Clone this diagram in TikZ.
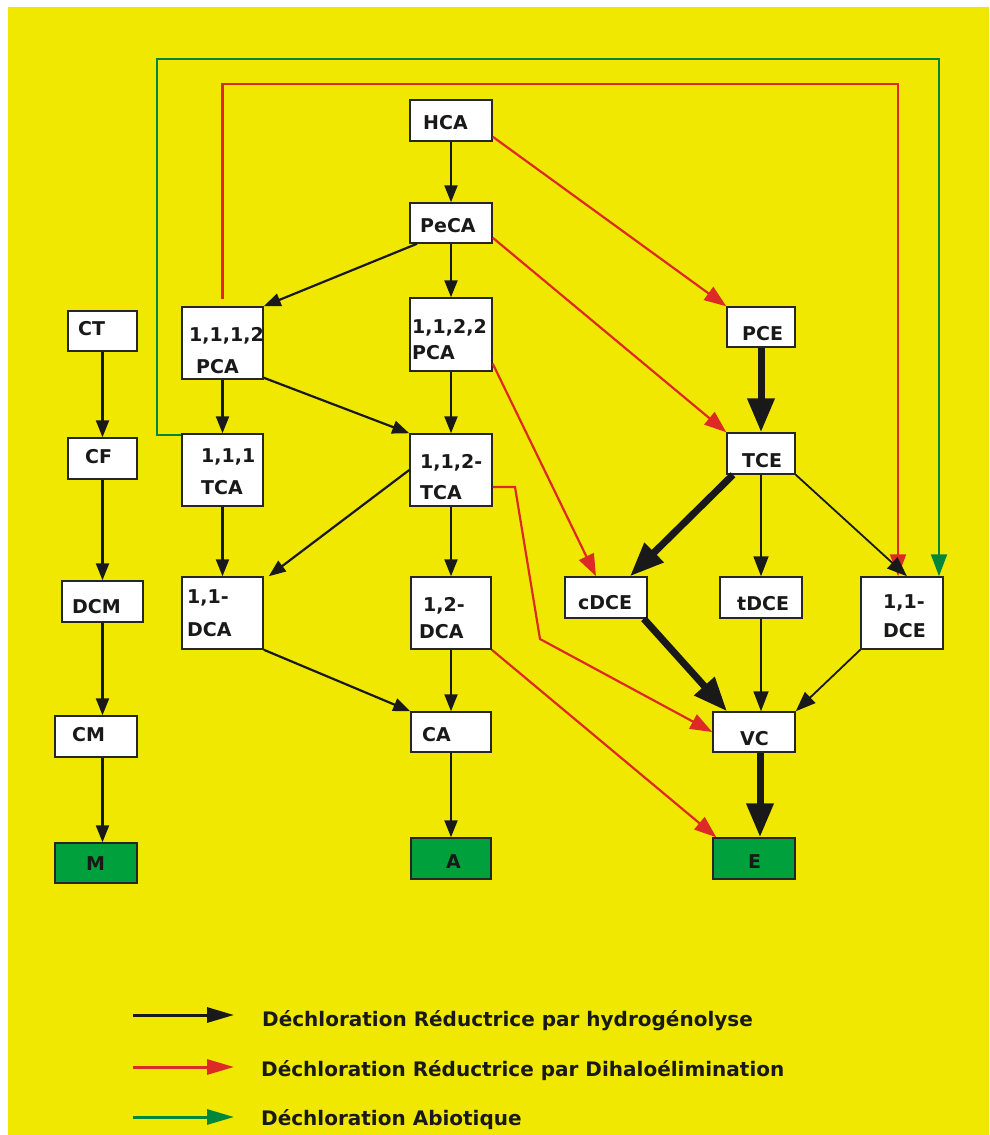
\documentclass[tikz,border=0pt]{standalone}
\usepackage{fontspec}
\setmainfont{DejaVu Sans}
\usetikzlibrary{arrows.meta}

\definecolor{bgyellow}{RGB}{240,232,0}
\definecolor{sinkgreen}{RGB}{0,160,60}
\definecolor{dihalored}{RGB}{222,42,38}
\definecolor{abiogreen}{RGB}{0,135,60}

\newcommand\lead[1]{\fontsize{19}{#1}\selectfont\bfseries}
\newcommand\keyfont{\fontsize{20}{24}\selectfont\bfseries}

\tikzset{
  box/.style={draw=black!85, line width=1.5pt, fill=white, inner sep=0pt},
  sink/.style={box, fill=sinkgreen},
  lbl/.style={font=\lead{30}, text=black!90, inner sep=0pt, text depth=0pt, align=left, anchor=west},
  hyd/.style={draw=black!90, line width=2.2pt, -{Triangle[length=17pt,width=13pt]}},
  hydthin/.style={draw=black!90, line width=1.8pt, -{Triangle[length=20pt,width=15pt]}},
  hydheavy/.style={draw=black!90, line width=7pt, -{Triangle[length=34pt,width=26pt]}},
  dihalo/.style={draw=dihalored, line width=2.2pt, -{Triangle[length=22pt,width=16pt]}},
  abio/.style={draw=abiogreen, line width=2pt, -{Triangle[length=22pt,width=16pt]}},
}

\begin{document}
\begin{tikzpicture}[x=1pt,y=-1pt]
  \useasboundingbox (0,0) rectangle (989,1135);
  \fill[bgyellow] (8,7) rectangle (989,1135);

  % boxes
  \node[box, minimum width=82pt, minimum height=41pt] (hca) at (451,120.5) {};
  \node[box, minimum width=82pt, minimum height=40pt] (peca) at (451,223) {};
  \node[box, minimum width=81pt, minimum height=72pt] (pcaA) at (222.5,343) {};
  \node[box, minimum width=82pt, minimum height=73pt] (pcaB) at (451,334.5) {};
  \node[box, minimum width=68pt, minimum height=40pt] (pce) at (761,327) {};
  \node[box, minimum width=81pt, minimum height=72pt] (tcaA) at (222.5,470) {};
  \node[box, minimum width=82pt, minimum height=72pt] (tcaB) at (451,470) {};
  \node[box, minimum width=68pt, minimum height=41pt] (tce) at (761,453.5) {};
  \node[box, minimum width=81pt, minimum height=72pt] (dcaA) at (222.5,613) {};
  \node[box, minimum width=80pt, minimum height=72pt] (dcaB) at (451,613) {};
  \node[box, minimum width=82pt, minimum height=41pt] (cdce) at (606,597.5) {};
  \node[box, minimum width=82pt, minimum height=41pt] (tdce) at (761,597.5) {};
  \node[box, minimum width=82pt, minimum height=72pt] (dce11) at (902,613) {};
  \node[box, minimum width=80pt, minimum height=40pt] (ca) at (451,732) {};
  \node[box, minimum width=82pt, minimum height=40pt] (vc) at (754,732) {};
  \node[sink, minimum width=80pt, minimum height=41pt] (a) at (451,858.5) {};
  \node[sink, minimum width=82pt, minimum height=41pt] (e) at (754,858.5) {};
  \node[box, minimum width=69pt, minimum height=40pt] (ct) at (102.5,331) {};
  \node[box, minimum width=69pt, minimum height=41pt] (cf) at (102.5,458.5) {};
  \node[box, minimum width=81pt, minimum height=41pt] (dcm) at (102.5,601.5) {};
  \node[box, minimum width=82pt, minimum height=41pt] (cm) at (96,736.5) {};
  \node[sink, minimum width=82pt, minimum height=40pt] (m) at (96,863) {};

  % labels
  \node[lbl] (hca-t) at (423,122.5) {HCA};
  \node[lbl] (peca-t) at (420,225.5) {PeCA};
  \node[lbl, font=\lead{32}] (pcaA-t) at (189,350.5) {1,1,1,2\\\hspace*{7pt}PCA};
  \node[lbl, font=\lead{26}] (pcaB-t) at (412,339) {1,1,2,2\\PCA};
  \node[lbl] (pce-t) at (742,333) {PCE};
  \node[lbl, font=\lead{32}] (tcaA-t) at (201,472) {1,1,1\\TCA};
  \node[lbl, font=\lead{31.5}] (tcaB-t) at (420,477) {1,1,2-\\TCA};
  \node[lbl] (tce-t) at (742,460.5) {TCE};
  \node[lbl, font=\lead{33}] (dcaA-t) at (187,613) {1,1-\\DCA};
  \node[lbl, font=\lead{27}] (dcaB-t) at (419,618) {\hspace*{4pt}1,2-\\DCA};
  \node[lbl] (cdce-t) at (578,602) {cDCE};
  \node[lbl] (tdce-t) at (737,603) {tDCE};
  \node[lbl, font=\lead{29}] (dce11-t) at (883,616.5) {1,1-\\DCE};
  \node[lbl] (ca-t) at (422,734) {CA};
  \node[lbl] (vc-t) at (740,738) {VC};
  \node[lbl] (a-t) at (446,862) {A};
  \node[lbl] (e-t) at (748,862) {E};
  \node[lbl] (ct-t) at (78,328) {CT};
  \node[lbl] (cf-t) at (85,456.5) {CF};
  \node[lbl] (dcm-t) at (72,606) {DCM};
  \node[lbl] (cm-t) at (72,734) {CM};
  \node[lbl] (m-t) at (86,864) {M};

  % abiotic and long dihaloelimination loops
  \draw[abio] ([yshift=-2pt]tcaA.north west) -| (157,59) -| ([xshift=37pt]dce11.north);
  \draw[dihalo] ([yshift=7pt]pcaA.north) |- (898,84) -- ([xshift=-4pt]dce11.north);

  % dihaloelimination
  \draw[dihalo] ([yshift=5pt]hca.south east) -- (pce.north west);
  \draw[dihalo] ([yshift=6pt]peca.south east) -- (tce.north west);
  \draw[dihalo] ([yshift=8pt]pcaB.south east) -- ([xshift=-10pt]cdce.north);
  \draw[dihalo] ([yshift=-17pt]tcaB.east) -- (515,487) -- (540,639) -- (vc.west);
  \draw[dihalo] (dcaB.south east) -- ([xshift=4pt]e.north west);

  % hydrogenolysis, chloroethanes
  \draw[hyd] (hca) -- (peca);
  \draw[hyd] ([xshift=-34pt]peca.south) -- (pcaA.north east);
  \draw[hyd] (peca) -- (pcaB);
  \draw[hyd] (pcaA) -- (tcaA);
  \draw[hyd] ([yshift=2pt]pcaA.south east) -- (tcaB.north west);
  \draw[hyd] (pcaB) -- (tcaB);
  \draw[hyd] (tcaA) -- (dcaA);
  \draw[hyd] (tcaB.west) -- ([xshift=5pt]dcaA.north east);
  \draw[hyd] (tcaB) -- (dcaB);
  \draw[hyd] (dcaA.south east) -- (ca.north west);
  \draw[hyd] (dcaB) -- (ca);
  \draw[hyd] (ca) -- (a);

  % hydrogenolysis, chloroethenes
  \draw[hydheavy] (pce) -- (tce);
  \draw[hydheavy] ([xshift=-28pt]tce.south) -- ([xshift=24pt]cdce.north);
  \draw[hydthin] (tce) -- (tdce);
  \draw[hydthin] (tce.south east) -- ([xshift=5pt]dce11.north);
  \draw[hydheavy] ([xshift=-4pt]cdce.south east) -- ([xshift=-27pt]vc.north);
  \draw[hydthin] (tdce.south) -- (tdce.south |- vc.north);
  \draw[hydthin] (dce11.south west) -- (vc.north east);
  \draw[hydheavy] ([xshift=6pt]vc.south) -- ([xshift=6pt]e.north);

  % chloromethanes
  \draw[hyd] (ct) -- (cf);
  \draw[hyd] (cf) -- (dcm);
  \draw[hyd] (dcm.south) -- (dcm.south |- cm.north);
  \draw[hyd] (dcm.south |- cm.south) -- (dcm.south |- m.north);

  % legend
  \coordinate (k1s) at (133,1015); \coordinate (k1e) at (234,1015);
  \coordinate (k2s) at (133,1067); \coordinate (k2e) at (234,1067);
  \coordinate (k3s) at (133,1117); \coordinate (k3e) at (234,1117);
  \draw[hyd, line width=3pt, -{Triangle[length=27pt,width=15pt]}] (k1s) -- (k1e);
  \draw[dihalo, line width=3pt, -{Triangle[length=27pt,width=15pt]}] (k2s) -- (k2e);
  \draw[abio, line width=3pt, -{Triangle[length=27pt,width=15pt]}] (k3s) -- (k3e);
  \node[lbl, font=\keyfont] (k1-t) at (262,1018) {Déchloration Réductrice par hydrogénolyse};
  \node[lbl, font=\keyfont] (k2-t) at (261,1068) {Déchloration Réductrice par Dihaloélimination};
  \node[lbl, font=\keyfont] (k3-t) at (261,1117) {Déchloration Abiotique};
\end{tikzpicture}
\end{document}
